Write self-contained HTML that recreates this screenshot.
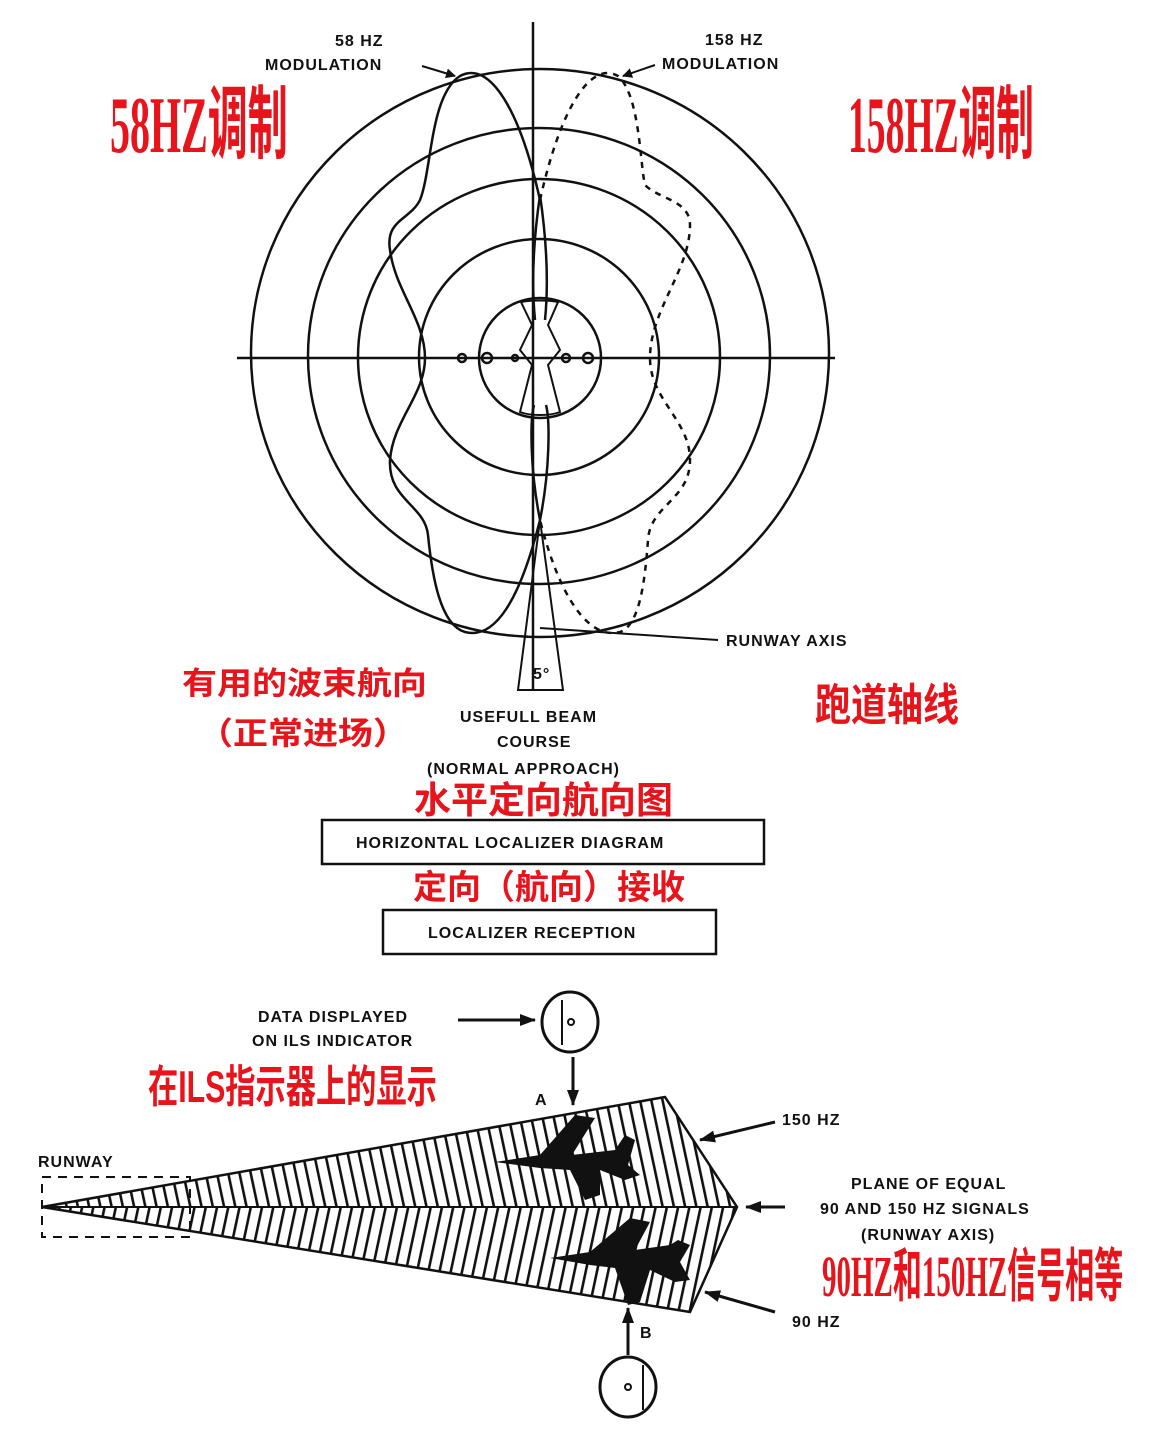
<!DOCTYPE html>
<html><head><meta charset="utf-8"><style>
html,body{margin:0;padding:0;background:#fff;}
svg{display:block}
.t{font-family:"Liberation Sans",sans-serif;font-weight:bold;fill:#111;font-size:16px;letter-spacing:1px}
.r{font-family:"Liberation Sans","Noto Sans CJK SC",sans-serif;font-weight:bold;fill:#e8141c}
.rs{font-family:"Liberation Serif","Noto Sans CJK SC",serif;fill:#e8141c;font-weight:bold}
</style></head><body>
<svg width="1152" height="1454" viewBox="0 0 1152 1454" xmlns="http://www.w3.org/2000/svg">
<defs>
<pattern id="hu" patternUnits="userSpaceOnUse" width="11" height="400" patternTransform="rotate(-12)">
<rect x="0" y="0" width="2.6" height="400" fill="#111"/></pattern>
<pattern id="hd" patternUnits="userSpaceOnUse" width="11" height="400" patternTransform="rotate(12)">
<rect x="0" y="0" width="2.6" height="400" fill="#111"/></pattern>
<marker id="ah" markerWidth="10" markerHeight="10" refX="9" refY="5" orient="auto" markerUnits="userSpaceOnUse"><path d="M0,0 L10,5 L0,10 z" fill="#111"/></marker>
<marker id="ab" markerWidth="16" markerHeight="12" refX="15" refY="6" orient="auto" markerUnits="userSpaceOnUse"><path d="M0,0 L16,6 L0,12 z" fill="#111"/></marker>
</defs>

<!-- polar diagram -->
<g fill="none" stroke="#111" stroke-width="2.5">
<line x1="533" y1="22" x2="533" y2="690"/>
<line x1="237" y1="358" x2="835" y2="358"/>
<ellipse cx="540" cy="353" rx="289" ry="284"/>
<ellipse cx="539" cy="356" rx="231" ry="228"/>
<ellipse cx="539" cy="357" rx="181" ry="178"/>
<ellipse cx="539" cy="357" rx="120" ry="118"/>
<ellipse cx="540" cy="358" rx="61" ry="60"/>
<path d="M540,200 C520,110 490,60 460,76 C430,95 432,170 420,200 C410,220 385,220 390,250 C395,290 425,320 425,358 C425,395 393,420 390,460 C388,500 425,505 428,535 C432,575 440,625 465,632 C495,640 520,600 540,520"/>
<path stroke-dasharray="6,6" d="M540,200 C560,110 590,60 618,76 C640,95 640,165 645,185 C660,200 690,200 690,225 C690,270 650,310 650,358 C650,400 690,420 690,460 C690,500 650,505 648,540 C645,580 640,625 620,632 C590,640 560,600 540,520"/>
<path d="M540,195 C548,250 548,290 545,320 M540,195 C532,250 532,290 535,320 M540,520 C550,470 550,420 546,405 M540,520 C530,470 530,420 534,405"/>
<path d="M521,302 C530,300 550,300 558,302 L548,325 L560,350 L548,365 L560,412 C550,416 530,416 520,412 L532,365 L520,350 L532,325 Z" stroke-width="2"/>
<circle cx="462" cy="358" r="4"/><circle cx="487" cy="358" r="5"/><circle cx="515" cy="358" r="3"/><circle cx="566" cy="358" r="4"/><circle cx="588" cy="358" r="5"/>
<path d="M540,520 L518,690 L563,690 Z" stroke-width="2"/>
<line x1="540" y1="628" x2="718" y2="640" stroke-width="2"/>
<line x1="422" y1="66" x2="455" y2="76" stroke-width="2" marker-end="url(#ah)"/>
<line x1="655" y1="65" x2="623" y2="76" stroke-width="2" marker-end="url(#ah)"/>
</g>
<text class="t" x="335" y="46" font-size="15">58 HZ</text>
<text class="t" x="265" y="70" font-size="15">MODULATION</text>
<text class="t" x="705" y="45" font-size="15">158 HZ</text>
<text class="t" x="662" y="69" font-size="15">MODULATION</text>
<text class="t" x="726" y="646" font-size="15">RUNWAY AXIS</text>
<text class="t" x="533" y="679" font-size="15">5°</text>

<text class="rs" x="110" y="152" font-size="80" transform="translate(110,152) scale(0.5,1) translate(-110,-152)">58HZ调制</text>
<text class="rs" x="848" y="152" font-size="80" transform="translate(848,152) scale(0.47,1) translate(-848,-152)">158HZ调制</text>

<text class="r" x="182" y="694" font-size="35" transform="translate(182,694) scale(1,0.9) translate(-182,-694)">有用的波束航向</text>
<text class="r" x="198" y="744" font-size="35" transform="translate(198,744) scale(1,0.9) translate(-198,-744)">（正常进场）</text>
<text class="r" x="815" y="720" font-size="40" transform="translate(815,720) scale(0.9,1.1) translate(-815,-720)">跑道轴线</text>

<text class="t" x="460" y="722" font-size="15">USEFULL BEAM</text>
<text class="t" x="497" y="747" font-size="15">COURSE</text>
<text class="t" x="427" y="774" font-size="15">(NORMAL APPROACH)</text>
<text class="r" x="414" y="813" font-size="37">水平定向航向图</text>
<rect x="322" y="820" width="442" height="44" fill="none" stroke="#111" stroke-width="2.5"/>
<text class="t" x="356" y="848" font-size="15">HORIZONTAL LOCALIZER DIAGRAM</text>
<text class="r" x="413" y="899" font-size="34">定向（航向）接收</text>
<rect x="383" y="910" width="333" height="44" fill="none" stroke="#111" stroke-width="2.5"/>
<text class="t" x="428" y="938" font-size="15">LOCALIZER RECEPTION</text>

<text class="t" x="258" y="1022" font-size="15">DATA DISPLAYED</text>
<text class="t" x="252" y="1046" font-size="15">ON ILS INDICATOR</text>
<text class="r" x="148" y="1102" font-size="42" transform="translate(148,1102) scale(0.72,1.05) translate(-148,-1102)">在ILS指示器上的显示</text>
<g fill="none" stroke="#111" stroke-width="3">
<line x1="458" y1="1020" x2="535" y2="1020" marker-end="url(#ab)"/>
<ellipse cx="570" cy="1022" rx="28" ry="30"/>
<line x1="562" y1="1000" x2="562" y2="1045" stroke-width="2"/>
<circle cx="571" cy="1022" r="3" stroke-width="2"/>
<line x1="573" y1="1057" x2="573" y2="1105" marker-end="url(#ab)"/>
<ellipse cx="628" cy="1387" rx="28" ry="30"/>
<line x1="643" y1="1365" x2="643" y2="1410" stroke-width="2"/>
<circle cx="628" cy="1387" r="3" stroke-width="2"/>
<line x1="628" y1="1355" x2="628" y2="1308" marker-end="url(#ab)"/>
<line x1="775" y1="1122" x2="700" y2="1140" marker-end="url(#ab)"/>
<line x1="785" y1="1207" x2="746" y2="1207" marker-end="url(#ab)"/>
<line x1="775" y1="1312" x2="705" y2="1292" marker-end="url(#ab)"/>
<rect x="42" y="1177" width="148" height="60" stroke-dasharray="9,7" stroke-width="2"/>
</g>
<polygon points="42,1207 665,1097 737,1207" fill="url(#hu)"/>
<polygon points="42,1207 737,1207 690,1312" fill="url(#hd)"/>
<polygon points="42,1207 665,1097 737,1207 690,1312" fill="none" stroke="#111" stroke-width="2.5"/>
<line x1="42" y1="1207" x2="737" y2="1207" stroke="#111" stroke-width="2"/>
<g fill="#111">
<path d="M495,1162 L540,1155 L575,1115 L595,1118 L572,1155 L615,1150 L625,1135 L635,1140 L628,1165 L640,1175 L625,1180 L600,1170 L600,1195 L585,1200 L570,1170 L540,1168 Z"/>
<path d="M550,1258 L590,1252 L630,1218 L650,1222 L635,1250 L670,1245 L678,1240 L690,1245 L680,1262 L690,1280 L675,1282 L650,1270 L640,1302 L628,1305 L615,1268 L590,1265 Z"/>
</g>
<text class="t" x="535" y="1105" font-size="15">A</text>
<text class="t" x="640" y="1338" font-size="15">B</text>
<text class="t" x="38" y="1167" font-size="15">RUNWAY</text>
<text class="t" x="782" y="1125" font-size="15">150 HZ</text>
<text class="t" x="851" y="1189" font-size="15">PLANE OF EQUAL</text>
<text class="t" x="820" y="1214" font-size="15">90 AND 150 HZ SIGNALS</text>
<text class="t" x="861" y="1240" font-size="15">(RUNWAY AXIS)</text>
<text class="t" x="792" y="1327" font-size="15">90 HZ</text>
<text class="rs" x="822" y="1296" font-size="58" transform="translate(822,1296) scale(0.5,1) translate(-822,-1296)">90HZ和150HZ信号相等</text>
</svg>
</body></html>
